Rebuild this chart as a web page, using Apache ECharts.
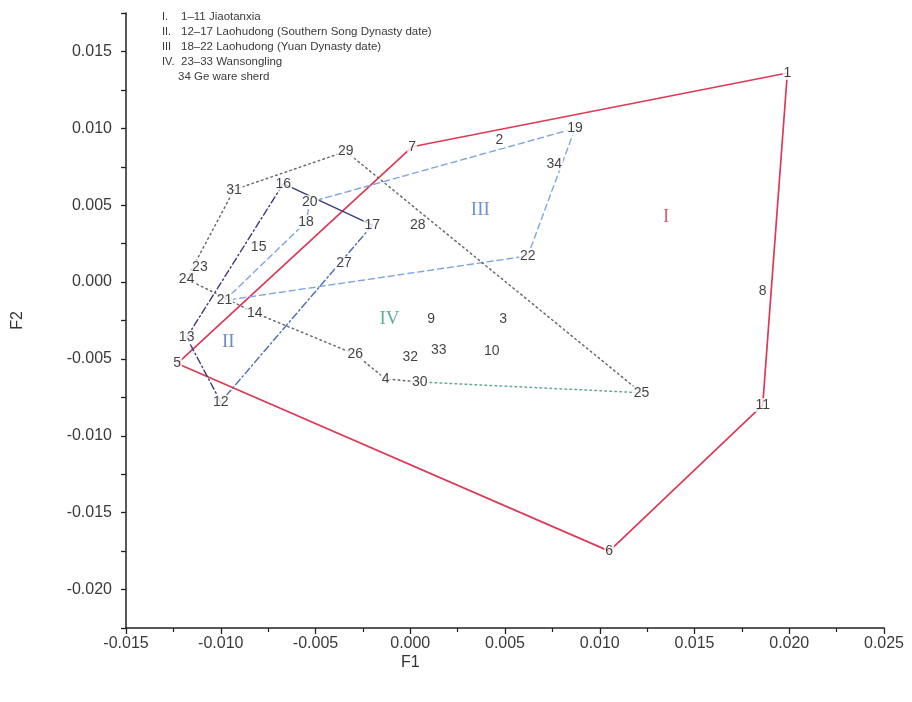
<!DOCTYPE html>
<html>
<head>
<meta charset="utf-8">
<script src="https://cdn.jsdelivr.net/npm/echarts@6/dist/echarts.min.js"></script>
<style>html,body{margin:0;padding:0;background:#fff;}#c{width:912px;height:702px;}</style>
</head>
<body>
<div id="c"></div>
<script>
// ---- data ----
const ids = [1,2,3,4,5,6,7,8,9,10,11,12,13,14,15,16,17,18,19,20,21,22,23,24,25,26,27,28,29,30,31,32,33,34];
const f1 = [0.0199,0.0047,0.0049,-0.0013,-0.0123,0.0105,0.0001,0.0186,0.0011,0.0043,0.0186,-0.0100,-0.0118,-0.0082,-0.0080,-0.0067,-0.0020,-0.0055,0.0087,-0.0053,-0.0098,0.0062,-0.0111,-0.0118,0.0122,-0.0029,-0.0035,0.0004,-0.0034,0.0005,-0.0093,0.0000,0.0015,0.0076];
const f2 = [0.0136,0.0092,-0.0024,-0.0063,-0.0053,-0.0175,0.0088,-0.0006,-0.0024,-0.0045,-0.0080,-0.0078,-0.0036,-0.0020,0.0023,0.0064,0.0037,0.0039,0.0100,0.0052,-0.0012,0.0017,0.0010,0.0002,-0.0072,-0.0047,0.0012,0.0037,0.0085,-0.0065,0.0060,-0.0049,-0.0044,0.0077];

// group outlines, as sequences of sample numbers
const groupI   = [7,1,11,6,5,7];
const groupIIa = [16,17];
const groupIIb = [17,12];
const groupIIc = [12,13,16];
const groupIII = [21,18,20,19,22,21];
const groupIVa = [24,31,29,25];
const groupIVb = [25,30];
const groupIVc = [30,4,26,14,24];

// group numerals and where they sit (data coordinates)
const romanText = ['I','II','III','IV'];
const romanF1 = [0.0135,-0.0096,0.0037,-0.0011];
const romanF2 = [0.0042,-0.0039,0.0047,-0.0024];
const romanColor = ['#d9364f','#4a6fb0','#4a78c8','#3a9a80'];

// legend lines
const legendNum = ['I.','II.','III','IV.',''];
const legendTxt = ['1\u201311 Jiaotanxia','12\u201317 Laohudong (Southern Song Dynasty date)','18\u201322 Laohudong (Yuan Dynasty date)','23\u201333 Wansongling','34 Ge ware sherd'];

// axis ticks
const xTicks = [-0.015,-0.010,-0.005,0.000,0.005,0.010,0.015,0.020,0.025];
const yTicks = [-0.020,-0.015,-0.010,-0.005,0.000,0.005,0.010,0.015];

// ---- build ----
function pt(id){ const i = ids.indexOf(id); return [f1[i], f2[i]]; }
function path(arr){ return arr.map(pt); }

const dashDot = [7,3,1.5,3];
const dotted = [1.6,3.4];
function lineSeries(arr, color, type, width){
  return {type:'line', data:path(arr), showSymbol:false, symbol:'none', silent:true, z:2,
    lineStyle:{color:color, type:type, width:width||1.4, cap:'round'}, animation:false};
}

const series = [
  lineSeries(groupI,'#dc3a55','solid',1.7),
  lineSeries(groupIIa,'#3b3b78','solid',1.4),
  lineSeries(groupIIb,'#4d6fae',dashDot,1.4),
  lineSeries(groupIIc,'#3b3b78',dashDot,1.4),
  lineSeries(groupIII,'#7fa6de',[6,4],1.4),
  lineSeries(groupIVa,'#6a6a6a',dotted,1.5),
  lineSeries(groupIVb,'#5fa893',dotted,1.5),
  lineSeries(groupIVc,'#6a6a6a',dotted,1.5),
  {type:'scatter', z:5, animation:false, symbolSize:1, itemStyle:{color:'rgba(0,0,0,0)'},
   data: ids.map((id,i)=>({value:[f1[i],f2[i]], name:String(id)})),
   label:{show:true, position:'inside', formatter:p=>p.name, color:'#111', fontSize:14,
     fontFamily:'Liberation Sans', backgroundColor:'#fff', padding:[0,1]}},
  {type:'scatter', z:5, animation:false, symbolSize:1, itemStyle:{color:'rgba(0,0,0,0)'},
   data: romanText.map((t,i)=>({value:[romanF1[i],romanF2[i]], name:t,
     label:{color:romanColor[i]}})),
   label:{show:true, position:'inside', formatter:p=>p.name, fontSize:19,
     fontFamily:'Liberation Serif'}}
];

const graphics = [];
legendNum.forEach((n,i)=>{
  graphics.push({type:'text', left:162, top:11+i*15, style:{text:n, fontSize:11, fontFamily:'Liberation Sans', fill:'#3a3a3a'}});
  graphics.push({type:'text', left:(i===4?178:181), top:11+i*15, style:{text:legendTxt[i], fontSize:11.5, fontFamily:'Liberation Sans', fill:'#3a3a3a'}});
});
// x-axis title sits under 0.000 in the original
graphics.push({type:'text', left:401, top:655, style:{text:'F1', fontSize:16, fontFamily:'Liberation Sans', fill:'#333'}});

const labelFont = {fontSize:16, fontFamily:'Liberation Sans', color:'#3a3a3a'};

const chart = echarts.init(document.getElementById('c'));
chart.setOption({
  backgroundColor:'#fff',
  animation:false,
  grid:{left:126, right:28, top:13, bottom:74},
  xAxis:{type:'value', min:xTicks[0], max:xTicks[xTicks.length-1], interval:0.005,
    axisLine:{show:true, onZero:false, lineStyle:{color:'#222', width:1.5}},
    axisTick:{show:true, length:6, lineStyle:{color:'#222', width:1.3}},
    minorTick:{show:true, splitNumber:2, length:4, lineStyle:{color:'#222', width:1.2}},
    splitLine:{show:false},
    axisLabel:Object.assign({margin:8, formatter:v=>v.toFixed(3)}, labelFont)},
  yAxis:{type:'value', min:-0.0225, max:0.0175, interval:0.0025,
    name:'F2', nameLocation:'middle', nameGap:100, nameRotate:90,
    nameTextStyle:{fontSize:16, fontFamily:'Liberation Sans', color:'#333'},
    axisLine:{show:true, onZero:false, lineStyle:{color:'#222', width:1.5}},
    axisTick:{show:true, length:5, lineStyle:{color:'#222', width:1.3}},
    splitLine:{show:false},
    axisLabel:Object.assign({margin:14,
      formatter:v=>{ const r = Math.round(v/0.0025); if (r % 2 !== 0) return ''; return (r*0.0025).toFixed(3); }}, labelFont)},
  graphic:graphics,
  series:series
});
</script>
</body>
</html>
